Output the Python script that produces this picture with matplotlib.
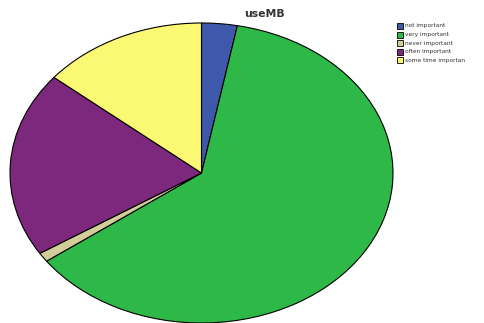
import matplotlib
matplotlib.use("Agg")
import matplotlib.pyplot as plt
from matplotlib.patches import Rectangle

categories = ["not important", "very important", "never important", "often important", "some time importan"]
values = [3, 62, 1, 20, 14]
colors = ["#3E58AC", "#2EB848", "#D3CE97", "#7C287D", "#FBF873"]
title = "useMB"

W, H = 484, 323
fig = plt.figure(figsize=(W / 100, H / 100), dpi=100)

ax = fig.add_axes([10 / W, 0, 383 / W, 300 / H])
ax.pie(values, colors=colors, startangle=90, counterclock=False,
       wedgeprops=dict(edgecolor="black", linewidth=0.8))
ax.set_aspect("auto")
ax.set_xlim(-1, 1)
ax.set_ylim(-1, 1)
ax.axis("off")

fig.text(264 / W, 1 - 14 / H, title, ha="center", va="center",
         fontsize=7.8, fontweight="bold", color="#333333")

y0 = 26
dy = 8.6
for i, (lab, col) in enumerate(zip(categories, colors)):
    yc = y0 + i * dy
    fig.patches.append(Rectangle((397 / W, 1 - (yc + 3) / H), 6 / W, 6 / H,
                                 transform=fig.transFigure, facecolor=col,
                                 edgecolor="black", linewidth=0.6))
    fig.text(405 / W, 1 - yc / H, lab, ha="left", va="center",
             fontsize=4.2, color="#333333")

fig.savefig("out.png", dpi=100)
